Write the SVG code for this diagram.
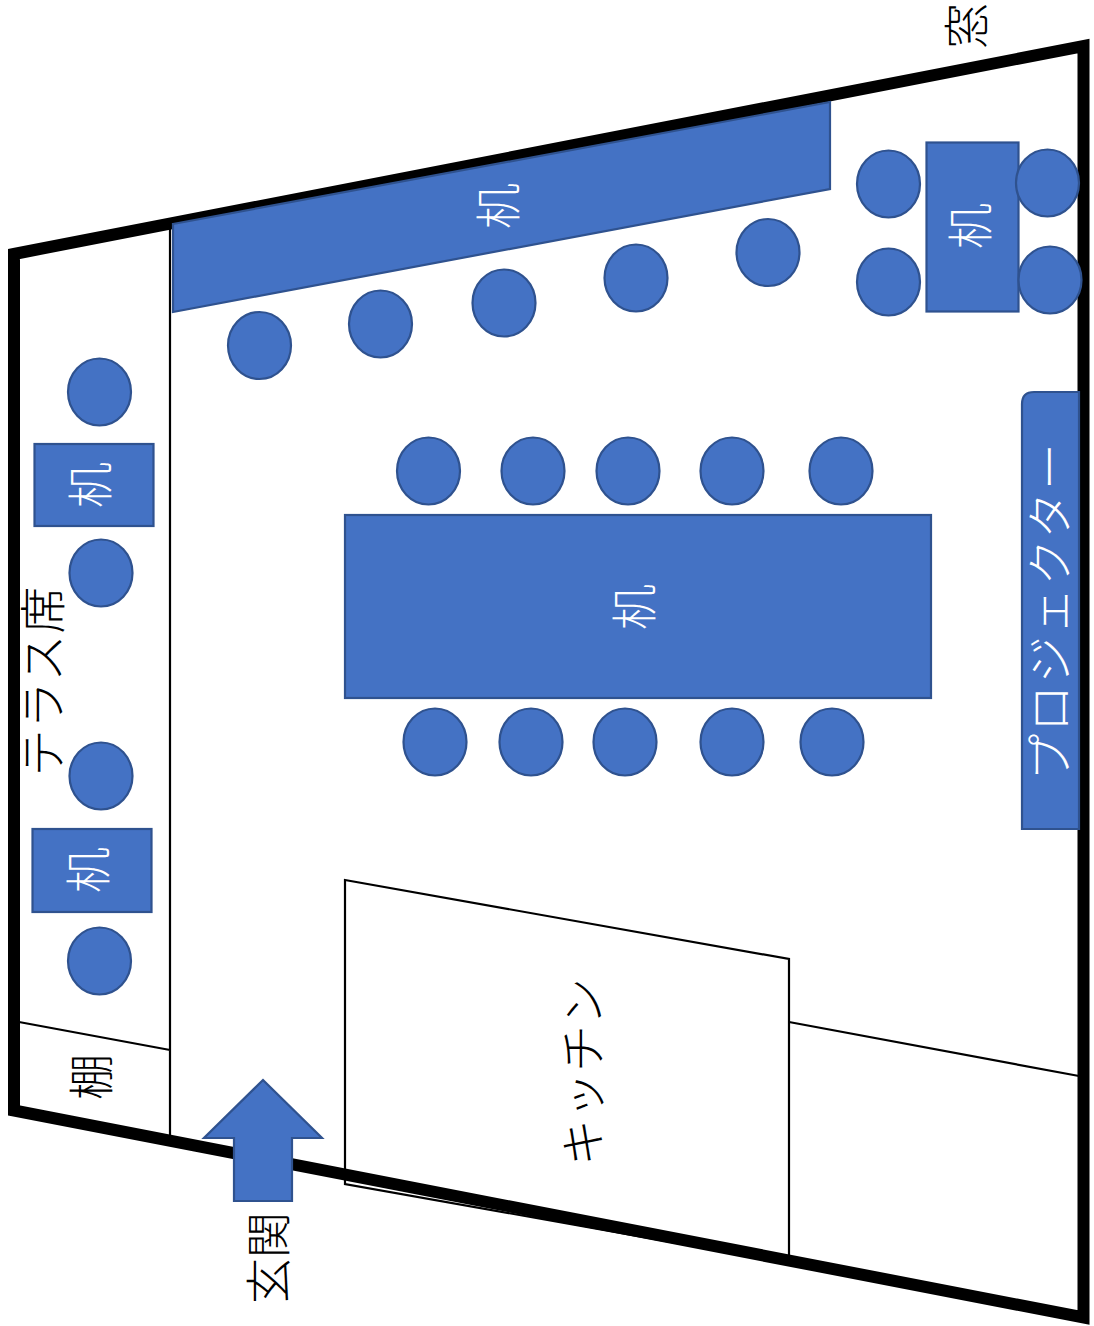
<svg xmlns="http://www.w3.org/2000/svg" width="1094" height="1326" viewBox="0 0 1094 1326">
<style>
.b{fill:#4472c4;stroke:#2f528f;stroke-width:2.200}
.l{fill:none;stroke:#000;stroke-width:2.200}
.t{font-family:"Noto Sans CJK JP","Noto Sans CJK SC",sans-serif;font-size:46px;font-weight:300;text-anchor:middle;dominant-baseline:central}
.w{fill:#fff}
</style>
<rect width="1094" height="1326" fill="#fff"/>
<g id="connectors">
<path class="l" d="M170,228V1136M19,1022L170,1050M789,1022L1079,1076"/>
<path class="l" d="M345,880L789,959V1263L345,1184Z"/>
</g>
<g id="room"><polygon points="14,254 1083.500,46 1083.500,1317.500 14,1110.500" fill="none" stroke="#000" stroke-width="12"/></g>
<g id="desk-window"><polygon class="b" points="173,224 830,102 830,189 173,312"/><text class="t w" transform="translate(495,206) rotate(-90)">机</text></g>
<g id="desk-corner"><rect class="b" x="926.500" y="142.500" width="92" height="169"/><text class="t w" transform="translate(967,226) rotate(-90)">机</text></g>
<g id="desk-main"><rect class="b" x="345" y="515" width="586" height="183"/><text class="t w" transform="translate(631,607) rotate(-90)">机</text></g>
<g id="desk-t1"><rect class="b" x="34.500" y="444" width="119" height="82"/><text class="t w" transform="translate(87,485) rotate(-90)">机</text></g>
<g id="desk-t2"><rect class="b" x="32.500" y="829" width="119" height="83"/><text class="t w" transform="translate(85,870) rotate(-90)">机</text></g>
<g id="projector"><path class="b" d="M1079,392V829H1022V404Q1022,392 1034,392Z"/><text class="t w" style="font-size:47px;letter-spacing:1.800px" transform="translate(1046,611) rotate(-90)">プロジェクター</text></g>
<g id="seats">
<ellipse class="b" cx="259.500" cy="345.500" rx="31.500" ry="33.500"/>
<ellipse class="b" cx="380.500" cy="324" rx="31.500" ry="33.500"/>
<ellipse class="b" cx="504" cy="303" rx="31.500" ry="33.500"/>
<ellipse class="b" cx="636" cy="278" rx="31.500" ry="33.500"/>
<ellipse class="b" cx="768" cy="252.500" rx="31.500" ry="33.500"/>
<ellipse class="b" cx="888.500" cy="184" rx="31.500" ry="33.500"/>
<ellipse class="b" cx="888.500" cy="282" rx="31.500" ry="33.500"/>
<ellipse class="b" cx="1047.500" cy="183" rx="31.500" ry="33.500"/>
<ellipse class="b" cx="1050" cy="280" rx="31.500" ry="33.500"/>
<ellipse class="b" cx="428.500" cy="471" rx="31.500" ry="33.500"/>
<ellipse class="b" cx="533" cy="471" rx="31.500" ry="33.500"/>
<ellipse class="b" cx="628" cy="471" rx="31.500" ry="33.500"/>
<ellipse class="b" cx="732" cy="471" rx="31.500" ry="33.500"/>
<ellipse class="b" cx="841" cy="471" rx="31.500" ry="33.500"/>
<ellipse class="b" cx="435" cy="742" rx="31.500" ry="33.500"/>
<ellipse class="b" cx="531" cy="742" rx="31.500" ry="33.500"/>
<ellipse class="b" cx="625" cy="742" rx="31.500" ry="33.500"/>
<ellipse class="b" cx="732" cy="742" rx="31.500" ry="33.500"/>
<ellipse class="b" cx="832" cy="742" rx="31.500" ry="33.500"/>
<ellipse class="b" cx="99.500" cy="392" rx="31.500" ry="33.500"/>
<ellipse class="b" cx="101" cy="573" rx="31.500" ry="33.500"/>
<ellipse class="b" cx="101" cy="776" rx="31.500" ry="33.500"/>
<ellipse class="b" cx="99.500" cy="961" rx="31.500" ry="33.500"/>
</g>
<g id="entrance"><polygon class="b" points="263,1080 322,1138 292,1138 292,1201 234,1201 234,1138 204,1138"/><text class="t" transform="translate(265,1258) rotate(-90)">玄関</text></g>
<g id="labels">
<text class="t" transform="translate(963,26) rotate(-90)">窓</text>
<text class="t" style="font-size:47px;letter-spacing:1px" transform="translate(39,681) rotate(-90)">テラス席</text>
<text class="t" transform="translate(88,1077) rotate(-90)">棚</text>
<text class="t" style="font-size:47px" transform="translate(579,1072) rotate(-90)">キッチン</text>
</g>
</svg>
